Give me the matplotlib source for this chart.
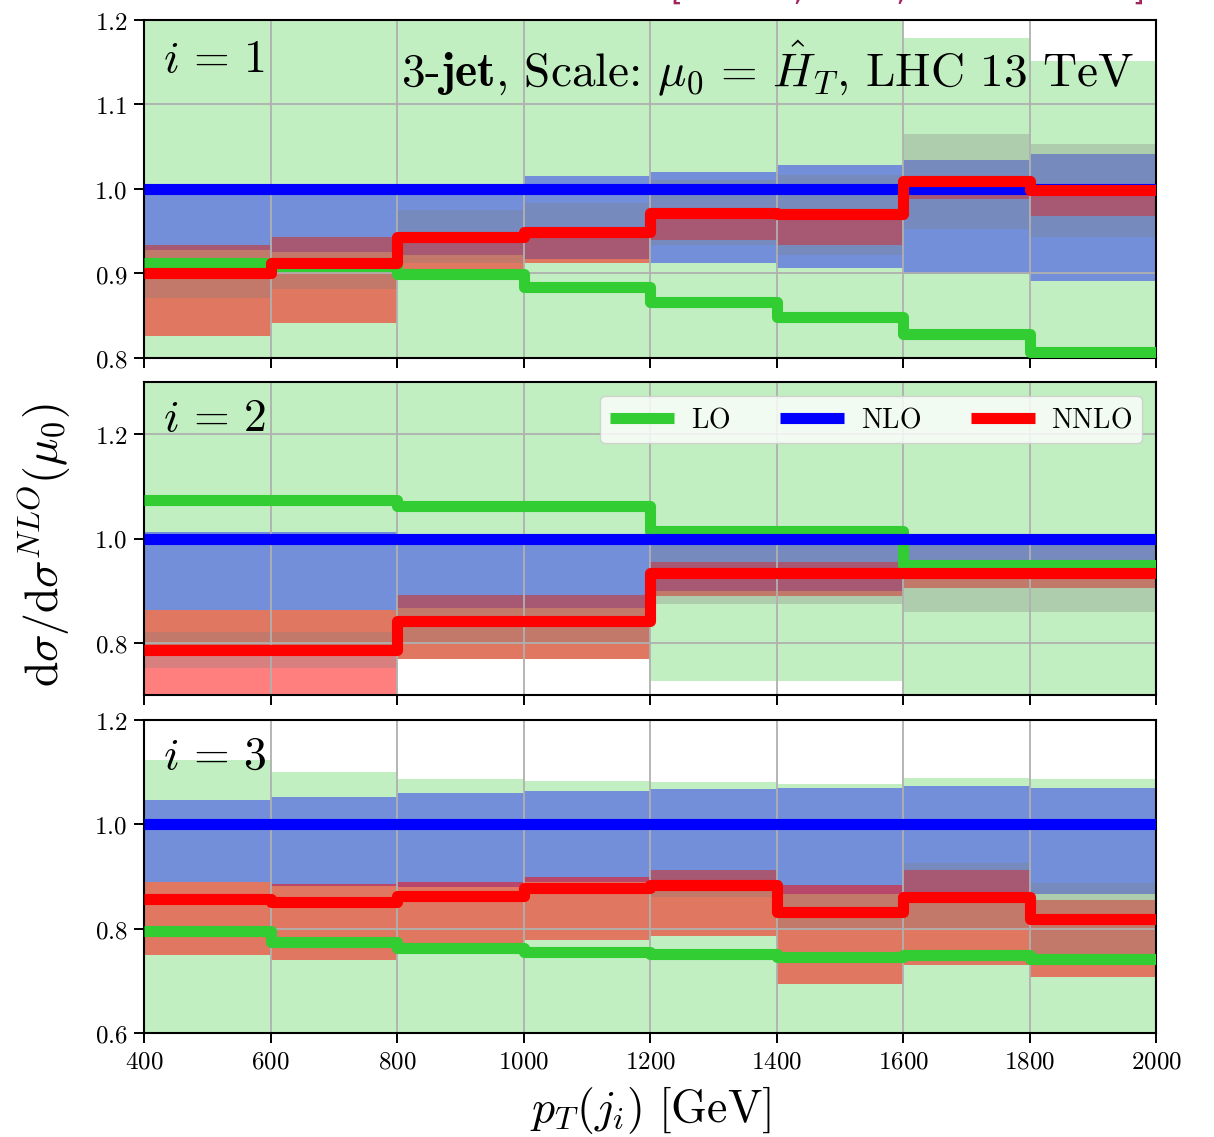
import numpy as np
import matplotlib
matplotlib.use("Agg")
import matplotlib.pyplot as plt
from matplotlib.ticker import FixedLocator, FuncFormatter

plt.rcParams['mathtext.fontset'] = 'cm'
plt.rcParams['font.family'] = ['DejaVu Sans']

# ---------------- data ----------------
edges = [400, 600, 800, 1000, 1200, 1400, 1600, 1800, 2000]
xticks = [400, 600, 800, 1000, 1200, 1400, 1600, 1800, 2000]

# panel i = 1
p1_lo = [0.913, 0.909, 0.899, 0.884, 0.866, 0.848, 0.828, 0.807]
p1_nlo = [1.0] * 8
p1_nnlo = [0.901, 0.913, 0.943, 0.949, 0.972, 0.971, 1.009, 0.999]
p1_lo_band_lo = [0.70] * 8
p1_lo_band_hi = [1.30, 1.30, 1.30, 1.30, 1.30, 1.30, 1.179, 1.151]
p1_nlo_band_lo = [0.928, 0.925, 0.922, 0.917, 0.912, 0.906, 0.900, 0.891]
p1_nlo_band_hi = [1.000, 1.000, 1.000, 1.015, 1.020, 1.028, 1.034, 1.042]
p1_nnlo_band_lo = [0.826, 0.842, 0.905, 0.912, 0.940, 0.934, 0.988, 0.968]
p1_nnlo_band_hi = [0.934, 0.943, 0.949, 0.955, 0.975, 0.975, 1.015, 1.005]
p1_alt_band_lo = [0.871, 0.882, 0.912, 0.917, 0.934, 0.922, 0.953, 0.943]
p1_alt_band_hi = [0.934, 0.943, 0.975, 0.984, 1.011, 1.017, 1.065, 1.053]

# panel i = 2
p2_lo = [1.073, 1.073, 1.062, 1.062, 1.014, 1.014, 0.950, 0.950]
p2_nlo = [1.0] * 8
p2_nnlo = [0.787, 0.787, 0.842, 0.842, 0.933, 0.933, 0.934, 0.934]
p2_lo_band_lo = [0.778, 0.778, 0.769, 0.769, 0.727, 0.727, 0.65, 0.65]
p2_lo_band_hi = [1.40] * 8
p2_nlo_band_lo = [0.863, 0.863, 0.866, 0.866, 0.899, 0.899, 0.950, 0.950]
p2_nlo_band_hi = [1.012, 1.012, 1.000, 1.000, 1.000, 1.000, 1.000, 1.000]
p2_nnlo_band_lo = [0.65, 0.65, 0.769, 0.769, 0.890, 0.890, 0.906, 0.906]
p2_nnlo_band_hi = [0.863, 0.863, 0.892, 0.892, 0.955, 0.955, 0.955, 0.955]
p2_alt_band_lo = [0.752, 0.752, 0.797, 0.797, 0.874, 0.874, 0.859, 0.859]
p2_alt_band_hi = [0.820, 0.820, 0.892, 0.892, 1.000, 1.000, 1.000, 1.000]

# panel i = 3
p3_lo = [0.795, 0.774, 0.762, 0.755, 0.752, 0.746, 0.749, 0.742]
p3_nlo = [1.0] * 8
p3_nnlo = [0.856, 0.851, 0.862, 0.877, 0.883, 0.832, 0.861, 0.819]
p3_lo_band_lo = [0.50] * 8
p3_lo_band_hi = [1.123, 1.100, 1.086, 1.084, 1.082, 1.078, 1.089, 1.086]
p3_nlo_band_lo = [0.889, 0.881, 0.880, 0.889, 0.885, 0.867, 0.865, 0.866]
p3_nlo_band_hi = [1.046, 1.052, 1.060, 1.064, 1.068, 1.070, 1.073, 1.070]
p3_nnlo_band_lo = [0.749, 0.739, 0.755, 0.778, 0.785, 0.693, 0.730, 0.707]
p3_nnlo_band_hi = [0.889, 0.885, 0.889, 0.900, 0.913, 0.884, 0.912, 0.854]
p3_alt_band_lo = [np.nan, np.nan, np.nan, np.nan, 0.861, 0.797, 0.800, 0.745]
p3_alt_band_hi = [np.nan, np.nan, np.nan, np.nan, 0.913, 0.867, 0.925, 0.888]

series_labels = [r"$\mathrm{LO}$", r"$\mathrm{NLO}$", r"$\mathrm{NNLO}$"]
panel_labels = [r"$i\,=\,1$", r"$i\,=\,2$", r"$i\,=\,3$"]
panel_ylims = [(0.8, 1.2), (0.7, 1.3), (0.6, 1.2)]
panel_yticks = [[0.8, 0.9, 1.0, 1.1, 1.2], [0.8, 1.0, 1.2], [0.6, 0.8, 1.0, 1.2]]

panels = [
    dict(lines=[p1_lo, p1_nlo, p1_nnlo],
         bands=[(p1_lo_band_lo, p1_lo_band_hi), (p1_nlo_band_lo, p1_nlo_band_hi),
                (p1_nnlo_band_lo, p1_nnlo_band_hi), (p1_alt_band_lo, p1_alt_band_hi)]),
    dict(lines=[p2_lo, p2_nlo, p2_nnlo],
         bands=[(p2_lo_band_lo, p2_lo_band_hi), (p2_nlo_band_lo, p2_nlo_band_hi),
                (p2_nnlo_band_lo, p2_nnlo_band_hi), (p2_alt_band_lo, p2_alt_band_hi)]),
    dict(lines=[p3_lo, p3_nlo, p3_nnlo],
         bands=[(p3_lo_band_lo, p3_lo_band_hi), (p3_nlo_band_lo, p3_nlo_band_hi),
                (p3_nnlo_band_lo, p3_nnlo_band_hi), (p3_alt_band_lo, p3_alt_band_hi)]),
]

line_colors = ['#32cd32', '#0000ff', '#ff0000']
band_colors = ['#32cd32', '#0000ff', '#ff0000', '#808080']
band_alphas = [0.3, 0.4, 0.5, 0.3]

# ---------------- figure ----------------
W, H = 1214, 1137
fig = plt.figure(figsize=(W / 100, H / 100), dpi=100)
left = 144 / W
width = (1156 - 144) / W
boxes = [(20, 358), (382, 695), (720, 1033)]

def ext(v):
    v = np.asarray(v, dtype=float)
    return np.append(v, v[-1])

x = np.asarray(edges, dtype=float)
axes = []
for k, (top, bot) in enumerate(boxes):
    ax = fig.add_axes([left, 1 - bot / H, width, (bot - top) / H])
    axes.append(ax)
    p = panels[k]
    for (blo, bhi), c, a in zip(p['bands'], band_colors, band_alphas):
        ylo, yhi = ext(blo), ext(bhi)
        mask = ~np.isnan(ylo)
        ax.fill_between(x, ylo, yhi, where=mask, step='post', color=c,
                        alpha=a, linewidth=0, zorder=1)
    handles = []
    for vals, c, lab in zip(p['lines'], line_colors, series_labels):
        h, = ax.step(x, ext(vals), where='post', color=c, lw=8,
                     solid_joinstyle='round', solid_capstyle='butt',
                     label=lab, zorder=3)
        handles.append(h)
    ax.set_xlim(400, 2000)
    ax.set_ylim(*panel_ylims[k])
    ax.xaxis.set_major_locator(FixedLocator(xticks))
    ax.yaxis.set_major_locator(FixedLocator(panel_yticks[k]))
    ax.yaxis.set_major_formatter(FuncFormatter(lambda v, pos: r"$%.1f$" % v))
    if k == 2:
        ax.xaxis.set_major_formatter(FuncFormatter(lambda v, pos: r"$%d$" % v))
    else:
        ax.xaxis.set_major_formatter(FuncFormatter(lambda v, pos: ""))
    ax.tick_params(axis='both', direction='out', length=7, width=1.4,
                   labelsize=18, pad=5)
    ax.grid(True, color='#b0b0b0', lw=1.3, zorder=2)
    for s in ax.spines.values():
        s.set_linewidth(1.5)
    ax.text(0.019, 0.845, panel_labels[k], transform=ax.transAxes,
            fontsize=33, va='baseline', ha='left', zorder=5)
    if k == 1:
        leg = ax.legend(handles=handles, loc='upper right', ncol=3, fontsize=20,
                        handlelength=2.3, handletextpad=0.6, columnspacing=1.8,
                        framealpha=0.8, borderaxespad=0.5, borderpad=0.35)
        leg.set_zorder(6)

axes[0].text(0.979, 0.805,
             r"$\mathbf{3}\text{-}\mathbf{jet}\text{, Scale: }\mu_0\,=\,\hat{H}_T\text{, LHC 13 TeV}$",
             transform=axes[0].transAxes, fontsize=34, ha='right', va='baseline', zorder=5)

fig.text(0.037, 1 - 545 / H, r"$\mathrm{d}\sigma/\mathrm{d}\sigma^{NLO}(\mu_0)$",
         rotation=90, fontsize=33, ha='center', va='center')
fig.text((144 + 1156) / 2 / W, 1 - 1110 / H, r"$p_T(j_i)\ [\mathrm{GeV}]$",
         fontsize=33, ha='center', va='center')

fig.text(1145 / W, 1.0, "[Czakon, Mitov, Poncelet 2021]", color='#a0245e',
         fontsize=22, ha='right', va='baseline')

fig.savefig("out.png", dpi=100)
